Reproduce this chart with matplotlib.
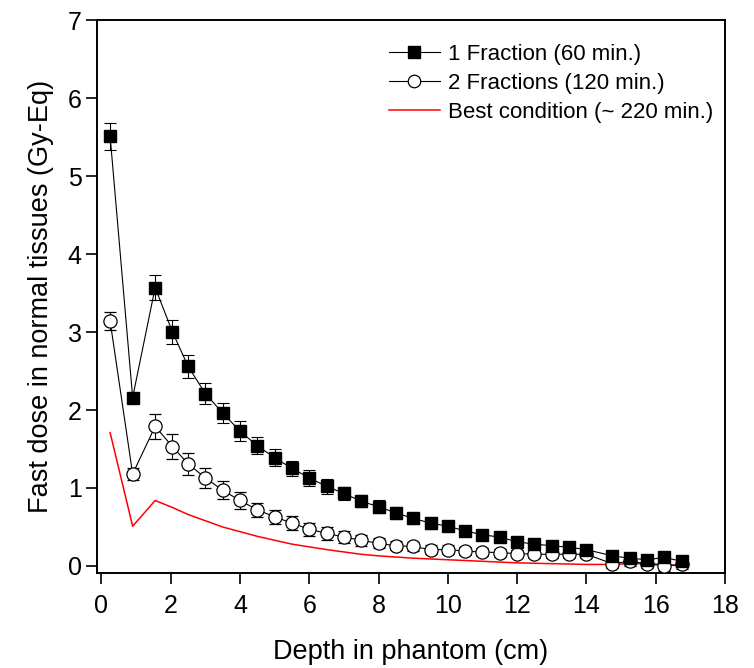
import numpy as np
import matplotlib
matplotlib.use("Agg")
import matplotlib.pyplot as plt
from matplotlib.lines import Line2D

plt.rcParams['font.family'] = ['Liberation Sans', 'DejaVu Sans']

depth = [0.25, 0.9, 1.55, 2.05, 2.5, 3.0, 3.5, 4.0, 4.5, 5.0, 5.5, 6.0, 6.5, 7.0,
         7.5, 8.0, 8.5, 9.0, 9.5, 10.0, 10.5, 11.0, 11.5, 12.0, 12.5, 13.0, 13.5,
         14.0, 14.75, 15.25, 15.75, 16.25, 16.75]

frac1 = [5.51, 2.16, 3.57, 3.00, 2.56, 2.21, 1.96, 1.73, 1.54, 1.39, 1.25, 1.13,
         1.02, 0.93, 0.83, 0.76, 0.68, 0.61, 0.55, 0.51, 0.45, 0.40, 0.37, 0.31,
         0.28, 0.26, 0.24, 0.21, 0.13, 0.10, 0.08, 0.11, 0.06]
frac1_err = [0.17, 0.05, 0.16, 0.15, 0.145, 0.137, 0.13, 0.13, 0.11, 0.107, 0.10,
             0.10, 0.10, 0.086, 0.08, 0.08, 0.075, 0.07, 0.07, 0.065, 0.06, 0.06,
             0.055, 0.05, 0.05, 0.05, 0.045, 0.045, 0.04, 0.04, 0.04, 0.04, 0.04]

frac2 = [3.14, 1.18, 1.79, 1.53, 1.31, 1.13, 0.97, 0.84, 0.72, 0.63, 0.55, 0.47,
         0.42, 0.37, 0.33, 0.29, 0.26, 0.25, 0.21, 0.21, 0.19, 0.18, 0.17, 0.16,
         0.15, 0.15, 0.15, 0.15, 0.03, 0.06, 0.03, 0.00, 0.02]
frac2_err = [0.12, 0.08, 0.16, 0.16, 0.137, 0.13, 0.116, 0.107, 0.094, 0.094,
             0.094, 0.086, 0.086, 0.073, 0.07, 0.065, 0.06, 0.06, 0.055, 0.055,
             0.05, 0.05, 0.05, 0.05, 0.05, 0.05, 0.05, 0.05, 0.06, 0.06, 0.06,
             0.06, 0.06]

best = [1.71, 0.51, 0.84, 0.75, 0.66, 0.58, 0.50, 0.44, 0.38, 0.33, 0.28, 0.245,
        0.21, 0.18, 0.15, 0.13, 0.115, 0.10, 0.09, 0.08, 0.07, 0.06, 0.05, 0.04,
        0.035, 0.03, 0.025, 0.02, 0.02, 0.03, 0.03, 0.02, 0.0]

labels = ['1 Fraction (60 min.)', '2 Fractions (120 min.)', 'Best condition (~ 220 min.)']

fig = plt.figure(figsize=(7.54, 6.68), dpi=100, facecolor='w')
ax = fig.add_axes([0.1286, 0.1422, 0.8329, 0.8278])

ax.plot(depth, best, color='red', lw=1.1, zorder=2)
ax.errorbar(depth, frac2, yerr=frac2_err, color='black', lw=0.8, elinewidth=0.8,
            capsize=4.3, capthick=0.8, marker='o', ms=9.5, mfc='white', mec='black',
            mew=0.9, zorder=3)
ax.errorbar(depth, frac1, yerr=frac1_err, color='black', lw=0.8, elinewidth=0.8,
            capsize=4.3, capthick=0.8, marker='s', ms=9, mfc='black', mec='black',
            zorder=4)

ax.set_xlim(-0.13, 18)
ax.set_ylim(-0.09, 7)
ax.set_xticks(np.arange(0, 19, 2))
ax.set_yticks(np.arange(0, 8, 1))
ax.tick_params(direction='out', length=8, width=1.2, labelsize=18, top=False, right=False)
ax.tick_params(axis='x', pad=7)
ax.tick_params(axis='y', pad=3)
for s in ax.spines.values():
    s.set_linewidth(1.4)

ax.set_xlabel('Depth in phantom (cm)', fontsize=19.5, labelpad=15)
ax.set_ylabel('Fast dose in normal tissues (Gy-Eq)', fontsize=19.5, labelpad=10)

handles = [Line2D([], [], color='black', lw=0.8, marker='s', ms=8, mfc='black'),
           Line2D([], [], color='black', lw=0.8, marker='o', ms=9, mfc='white', mew=0.9),
           Line2D([], [], color='red', lw=1.1)]
ax.legend(handles, labels, loc='upper right', bbox_to_anchor=(1.0143, 0.9946),
          frameon=False, fontsize=16, handlelength=2.3, handletextpad=0.35,
          labelspacing=0.36, borderaxespad=0.55, borderpad=0.4)

plt.savefig('out.png', dpi=100)
